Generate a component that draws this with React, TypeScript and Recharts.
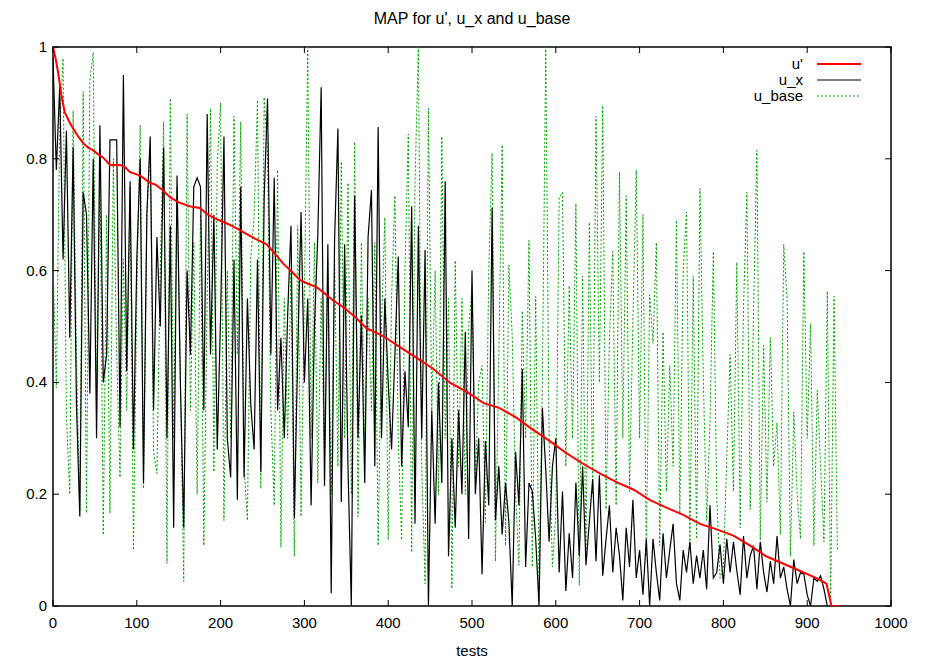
import React from 'react'
import { LineChart, Line, XAxis, YAxis, ReferenceArea } from 'recharts'

// u' (smooth, decreasing) read at irregular test numbers
const uPrimeTests = [0, 3, 6, 10, 14, 20, 24, 30, 36, 42, 48, 54, 60, 68, 80, 86, 92, 104, 116, 122, 130, 140, 150, 163, 175, 185, 195, 205, 215, 228, 241, 255, 265, 275, 285, 295, 305, 315, 325, 334, 347, 360, 374, 394, 414, 434, 454, 474, 494, 514, 533, 553, 573, 593, 613, 633, 653, 673, 693, 712, 732, 752, 772, 792, 812, 832, 851, 871, 891, 911, 923, 929, 940]
const uPrimeValues = [1.0, 0.98, 0.955, 0.915, 0.883, 0.865, 0.854, 0.84, 0.828, 0.82, 0.815, 0.808, 0.802, 0.789, 0.789, 0.785, 0.776, 0.77, 0.757, 0.754, 0.745, 0.731, 0.722, 0.715, 0.712, 0.7, 0.692, 0.686, 0.679, 0.668, 0.657, 0.647, 0.63, 0.612, 0.598, 0.583, 0.576, 0.57, 0.558, 0.547, 0.534, 0.518, 0.497, 0.483, 0.463, 0.444, 0.424, 0.399, 0.383, 0.363, 0.354, 0.337, 0.315, 0.295, 0.273, 0.254, 0.237, 0.221, 0.208, 0.19, 0.176, 0.163, 0.147, 0.137, 0.126, 0.108, 0.089, 0.076, 0.063, 0.05, 0.04, 0.0, 0.0]

// u_x and u_base, one value every 4 tests starting at test 0
const TEST_STEP = 4
const uxValues = [
  0.98, 0.78, 0.93, 0.62, 0.85, 0.48, 0.82, 0.36, 0.16, 0.74, 0.70, 0.38, 0.80, 0.30, 0.86, 0.40, 0.45, 0.834, 0.834, 0.834, 0.32, 0.95, 0.42, 0.76, 0.28,
  0.62, 0.80, 0.22, 0.70, 0.84, 0.35, 0.66, 0.50, 0.82, 0.30, 0.68, 0.14, 0.77, 0.40, 0.14, 0.60, 0.45, 0.75, 0.766, 0.75, 0.35, 0.88, 0.45, 0.70, 0.28,
  0.52, 0.84, 0.30, 0.23, 0.62, 0.19, 0.75, 0.23, 0.55, 0.36, 0.28, 0.62, 0.24, 0.73, 0.908, 0.45, 0.766, 0.35, 0.48, 0.30, 0.52, 0.68, 0.157, 0.45, 0.705,
  0.40, 0.55, 0.18, 0.50, 0.663, 0.928, 0.215, 0.647, 0.023, 0.654, 0.854, 0.186, 0.647, 0.25, 0.0, 0.734, 0.30, 0.52, 0.22, 0.66, 0.744, 0.25, 0.857, 0.30, 0.55,
  0.40, 0.28, 0.45, 0.625, 0.25, 0.42, 0.32, 0.715, 0.147, 0.68, 0.30, 0.637, 0.0, 0.35, 0.147, 0.40, 0.22, 0.76, 0.089, 0.30, 0.14, 0.35, 0.20, 0.49, 0.12,
  0.60, 0.20, 0.30, 0.057, 0.295, 0.18, 0.712, 0.154, 0.25, 0.128, 0.22, 0.15, 0.0, 0.276, 0.18, 0.424, 0.07, 0.22, 0.205, 0.12, 0.0, 0.354, 0.244, 0.115, 0.25,
  0.30, 0.06, 0.205, 0.027, 0.13, 0.05, 0.221, 0.09, 0.25, 0.073, 0.15, 0.227, 0.08, 0.234, 0.054, 0.12, 0.18, 0.06, 0.14, 0.09, 0.01, 0.14, 0.07, 0.19, 0.05,
  0.10, 0.02, 0.12, 0.0, 0.12, 0.06, 0.01, 0.13, 0.05, 0.10, 0.147, 0.04, 0.01, 0.10, 0.06, 0.115, 0.04, 0.09, 0.05, 0.10, 0.03, 0.18, 0.05, 0.06, 0.11,
  0.04, 0.12, 0.06, 0.115, 0.063, 0.02, 0.125, 0.05, 0.09, 0.108, 0.03, 0.115, 0.06, 0.025, 0.08, 0.04, 0.125, 0.05, 0.07, 0.03, 0.0, 0.083, 0.04, 0.06, 0.057, 0.02, 0.0, 0.05, 0.044, 0.054, 0.03, 0.0,
]
const uBaseValues = [
  0.62, 0.39, 0.85, 0.98, 0.34, 0.2, 0.886, 0.45, 0.17, 0.92, 0.166, 0.94, 0.99, 0.35, 0.78, 0.127, 0.70, 0.166, 0.80, 0.45, 0.23, 0.62, 0.35, 0.75, 0.10,
  0.55, 0.86, 0.21, 0.70, 0.818, 0.276, 0.237, 0.60, 0.866, 0.076, 0.908, 0.30, 0.75, 0.40, 0.044, 0.88, 0.35, 0.65, 0.20, 0.70, 0.108, 0.55, 0.89, 0.24, 0.79,
  0.90, 0.153, 0.60, 0.30, 0.876, 0.45, 0.866, 0.25, 0.153, 0.625, 0.695, 0.905, 0.21, 0.91, 0.81, 0.35, 0.18, 0.78, 0.105, 0.55, 0.30, 0.60, 0.089, 0.68, 0.16,
  0.55, 1.0, 0.30, 0.65, 0.22, 0.55, 0.26, 0.60, 0.20, 0.62, 0.25, 0.795, 0.30, 0.757, 0.20, 0.83, 0.16, 0.65, 0.28, 0.55, 0.35, 0.65, 0.108, 0.50, 0.695,
  0.118, 0.55, 0.734, 0.30, 0.118, 0.60, 0.844, 0.096, 0.757, 1.0, 0.25, 0.04, 0.89, 0.35, 0.60, 0.20, 0.84, 0.30, 0.55, 0.031, 0.618, 0.25, 0.55, 0.20, 0.50,
  0.566, 0.22, 0.40, 0.43, 0.15, 0.60, 0.81, 0.08, 0.45, 0.825, 0.108, 0.61, 0.483, 0.20, 0.073, 0.528, 0.30, 0.654, 0.07, 0.554, 0.037, 0.40, 1.0, 0.30, 0.07,
  0.166, 0.73, 0.74, 0.25, 0.573, 0.30, 0.72, 0.037, 0.59, 0.089, 0.686, 0.20, 0.876, 0.40, 0.895, 0.173, 0.476, 0.634, 0.18, 0.776, 0.30, 0.734, 0.205, 0.51, 0.78,
  0.30, 0.70, 0.089, 0.557, 0.47, 0.65, 0.108, 0.49, 0.205, 0.43, 0.25, 0.69, 0.166, 0.60, 0.705, 0.108, 0.59, 0.12, 0.747, 0.41, 0.153, 0.328, 0.634, 0.20, 0.05,
  0.07, 0.263, 0.45, 0.205, 0.615, 0.14, 0.534, 0.74, 0.173, 0.528, 0.815, 0.118, 0.466, 0.186, 0.48, 0.25, 0.328, 0.128, 0.647, 0.55, 0.089, 0.347, 0.20, 0.12, 0.634, 0.30, 0.505, 0.108, 0.386, 0.25, 0.115, 0.563, 0.01, 0.554, 0.10,
]

const xTicks = [0, 100, 200, 300, 400, 500, 600, 700, 800, 900, 1000]
const yTicks = [0, 0.2, 0.4, 0.6, 0.8, 1]

const uPrimeData = uPrimeTests.map((t, i) => ({ t, v: uPrimeValues[i] }))
const uxData = uxValues.map((v, i) => ({ t: i * TEST_STEP, v }))
const uBaseData = uBaseValues.map((v, i) => ({ t: i * TEST_STEP, v }))

const W = 928
const H = 665
const PLOT_LEFT = 53
const PLOT_RIGHT = 891
const PLOT_TOP = 47
const PLOT_BOTTOM = 606
const TICK = 6
const FONT = '"Liberation Sans", Arial, Helvetica, sans-serif'

const XTick = (props: any) => {
  const { x, payload } = props
  return (
    <g>
      <line x1={x} x2={x} y1={PLOT_BOTTOM} y2={PLOT_BOTTOM - TICK} stroke="#000" />
      <line x1={x} x2={x} y1={PLOT_TOP} y2={PLOT_TOP + TICK} stroke="#000" />
      <text x={x} y={PLOT_BOTTOM + 22} textAnchor="middle" fontSize={15} fontFamily={FONT} fill="#000">
        {payload.value}
      </text>
    </g>
  )
}

const YTick = (props: any) => {
  const { y, payload } = props
  return (
    <g>
      <line x1={PLOT_LEFT} x2={PLOT_LEFT + TICK} y1={y} y2={y} stroke="#000" />
      <line x1={PLOT_RIGHT} x2={PLOT_RIGHT - TICK} y1={y} y2={y} stroke="#000" />
      <text x={PLOT_LEFT - 6} y={y + 5} textAnchor="end" fontSize={15} fontFamily={FONT} fill="#000">
        {payload.value}
      </text>
    </g>
  )
}

const legendItems = [
  { name: "u'", color: '#ff0000', width: 2, dash: undefined },
  { name: 'u_x', color: '#000000', width: 1.2, dash: undefined },
  { name: 'u_base', color: '#00a000', width: 1, dash: '2 2' },
]

function App() {
  return (
    <div style={{ position: 'absolute', left: 0, top: 0, width: W, height: H, background: '#fff' }}>
      <div style={{ position: 'absolute', left: PLOT_LEFT, top: 10, width: PLOT_RIGHT - PLOT_LEFT, textAlign: 'center', fontFamily: FONT, fontSize: 16 }}>
        MAP for u', u_x and u_base
      </div>
      <LineChart width={W} height={H} margin={{ top: PLOT_TOP, right: W - PLOT_RIGHT, bottom: 0, left: 0 }}>
        <XAxis
          type="number"
          dataKey="t"
          domain={[0, 1000]}
          ticks={xTicks}
          tick={<XTick />}
          tickLine={false}
          axisLine={false}
          allowDataOverflow
          height={H - PLOT_BOTTOM}
        />
        <YAxis
          type="number"
          domain={[0, 1]}
          ticks={yTicks}
          tick={<YTick />}
          tickLine={false}
          axisLine={false}
          allowDataOverflow
          width={PLOT_LEFT}
        />
        <Line data={uBaseData} dataKey="v" stroke="#00a000" strokeWidth={1} strokeDasharray="2 2" dot={false} isAnimationActive={false} />
        <Line data={uxData} dataKey="v" stroke="#000000" strokeWidth={1.2} dot={false} isAnimationActive={false} />
        <Line data={uPrimeData} dataKey="v" stroke="#ff0000" strokeWidth={2} dot={false} isAnimationActive={false} />
        <ReferenceArea x1={0} x2={1000} y1={0} y2={1} fill="none" stroke="#000" strokeWidth={1.5} ifOverflow="visible" />
      </LineChart>
      <div style={{ position: 'absolute', left: PLOT_LEFT, top: 642, width: PLOT_RIGHT - PLOT_LEFT, textAlign: 'center', fontFamily: FONT, fontSize: 15 }}>
        tests
      </div>
      <div style={{ position: 'absolute', left: 690, top: 56, fontFamily: FONT, fontSize: 15 }}>
        {legendItems.map((it) => (
          <div key={it.name} style={{ display: 'flex', alignItems: 'center', height: 16 }}>
            <span style={{ width: 113, textAlign: 'right', lineHeight: '16px' }}>{it.name}</span>
            <svg width={58} height={16} style={{ marginLeft: 12 }}>
              <line x1={2} x2={46} y1={8} y2={8} stroke={it.color} strokeWidth={it.width} strokeDasharray={it.dash} />
            </svg>
          </div>
        ))}
      </div>
    </div>
  )
}

export default App
